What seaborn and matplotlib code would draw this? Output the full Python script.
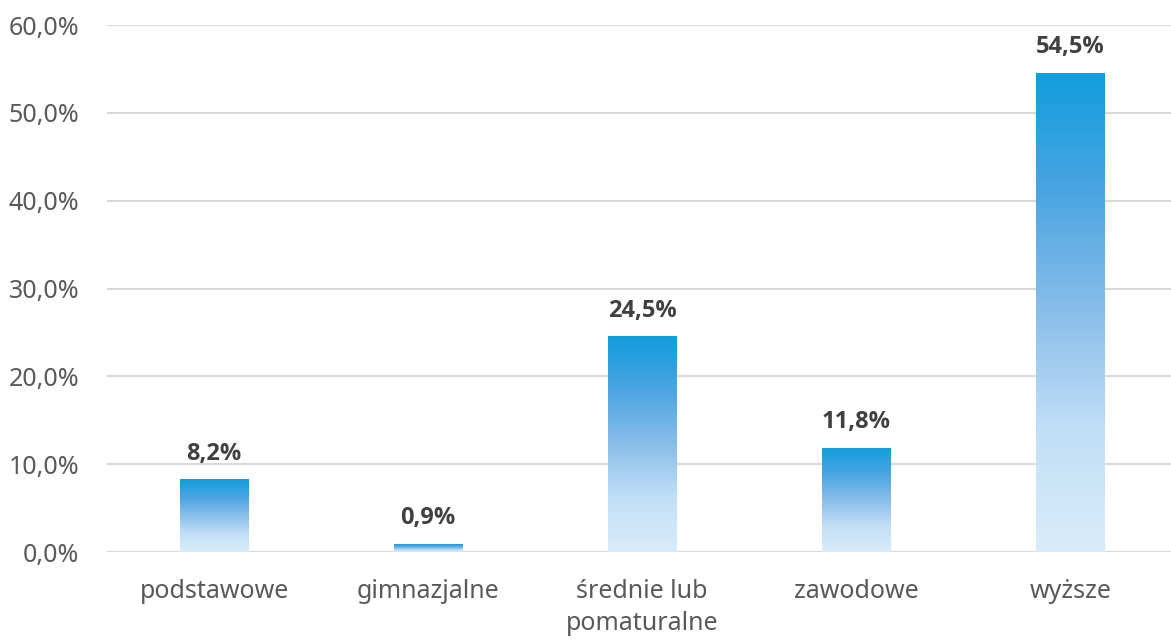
import numpy as np
import pandas as pd
import matplotlib.pyplot as plt
import seaborn as sns
from matplotlib.colors import LinearSegmentedColormap

# data
categories = ["podstawowe", "gimnazjalne", "średnie lub\npomaturalne", "zawodowe", "wyższe"]
values = [8.2, 0.9, 24.5, 11.8, 54.5]
yticks = [0, 10, 20, 30, 40, 50, 60]

df = pd.DataFrame({"cat": categories, "val": values})

sns.set_theme(style="white")
plt.rcParams['font.family'] = ['Noto Sans', 'DejaVu Sans']

fig = plt.figure(figsize=(11.71, 6.42), dpi=100)
ax = fig.add_axes([0.0914, 0.140, 0.914, 0.821])

sns.barplot(data=df, x="cat", y="val", ax=ax, width=0.32, color="#1A9BDC", zorder=2)

ax.set_ylim(0, 60)
ax.set_xlim(-0.5, 4.5)
ax.set_yticks(yticks)
ax.set_yticklabels([f"{t:.1f}%".replace(".", ",") for t in yticks])
ax.yaxis.grid(True, color="#D9D9D9", lw=1.5, zorder=0)
ax.set_axisbelow(True)
for s in ax.spines.values():
    s.set_visible(False)
ax.set_xlabel("")
ax.set_ylabel("")
ax.tick_params(axis="both", length=0, labelsize=18, labelcolor="#595959")
ax.tick_params(axis="y", pad=20)
ax.tick_params(axis="x", pad=19)
for lab in ax.get_xticklabels():
    lab.set_linespacing(1.42)

# vertical gradient in each bar
cmap = LinearSegmentedColormap.from_list(
    "grad", ["#D8ECFB", "#C2DFF6", "#8ABEEA", "#4BA5E2", "#129DDD"])
grad = np.linspace(0, 1, 256).reshape(-1, 1)
for p in ax.patches:
    x0, y0 = p.get_x(), p.get_y()
    w, h = p.get_width(), p.get_height()
    p.set_facecolor("none")
    p.set_edgecolor("none")
    ax.imshow(grad, cmap=cmap, origin="lower", aspect="auto",
              extent=[x0, x0 + w, y0, y0 + h], zorder=2)
    ax.text(x0 + w / 2, y0 + h + 1.6, f"{h:.1f}%".replace(".", ","),
            ha="center", va="bottom", fontsize=17, fontweight="bold",
            color="#404040", family=["Open Sans", "DejaVu Sans"])

ax.set_xlim(-0.5, 4.5)
ax.set_ylim(0, 60)

fig.savefig("out.png", dpi=100)
